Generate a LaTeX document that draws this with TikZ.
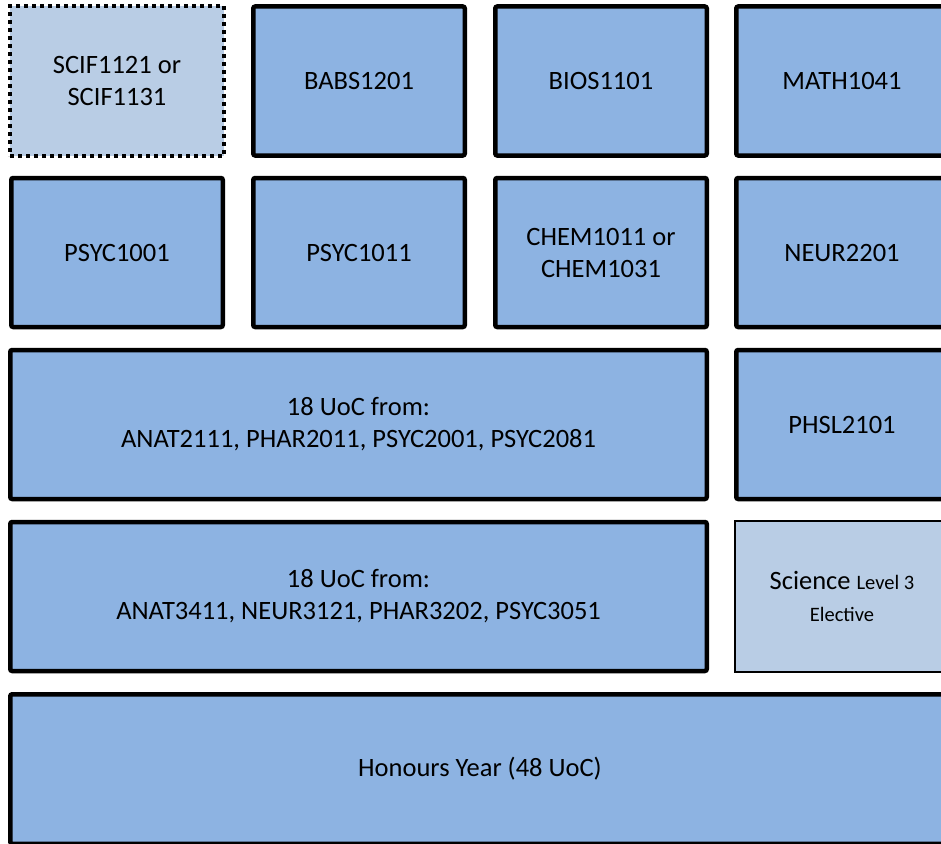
\documentclass[tikz,border=0pt]{standalone}
\usepackage{fontspec}
\setmainfont{Carlito}
\definecolor{midblue}{HTML}{8DB3E2}
\definecolor{lightblue}{HTML}{B9CDE5}
\begin{document}
\begin{tikzpicture}[x=1pt,y=-1pt,
  course/.style={draw=black, line width=4.5pt, fill=midblue, rounded corners=2pt,
    inner sep=0pt, outer sep=0pt, align=center,
    font=\fontsize{26.5}{32}\selectfont},
  optbox/.style={draw=black, line width=4pt, fill=lightblue, dash pattern=on 4pt off 4pt,
    inner sep=0pt, outer sep=0pt, align=center,
    font=\fontsize{26.5}{32}\selectfont},
  elective/.style={draw=black, line width=2pt, fill=lightblue,
    inner sep=0pt, outer sep=0pt, align=center,
    font=\fontsize{26.5}{32}\selectfont},
  colw/.style={minimum width=211.5pt},
  roww/.style={minimum height=149pt}]
\useasboundingbox (0,0) rectangle (941,843);
\begin{scope}
\clip (0,0) rectangle (941,843);
% row 1
\node[optbox, minimum width=214pt, minimum height=150pt] (scif) at (117,81) {SCIF1121 or\\SCIF1131};
\node[course, colw, roww] (babs) at (359,81) {BABS1201};
\node[course, colw, roww] (bios) at (601,81) {BIOS1101};
\node[course, colw, roww] (math) at (842,81) {MATH1041};
% row 2
\node[course, colw, roww] (psyc1001) at (117,252.5) {PSYC1001};
\node[course, colw, roww] (psyc1011) at (359,252.5) {PSYC1011};
\node[course, colw, roww] (chem) at (601,252.5) {CHEM1011 or\\CHEM1031};
\node[course, colw, roww] (neur) at (842,252.5) {NEUR2201};
% row 3
\node[course, minimum width=696.5pt, roww] (lvl2) at (358.5,424.5) {18 UoC from:\\ANAT2111, PHAR2011, PSYC2001, PSYC2081};
\node[course, colw, roww] (phsl) at (842,424.5) {PHSL2101};
% row 4
\node[course, minimum width=696.5pt, roww] (lvl3) at (358.5,596.5) {18 UoC from:\\ANAT3411, NEUR3121, PHAR3202, PSYC3051};
\node[elective, minimum width=214pt, minimum height=151pt] (sci) at (842,596.5)
  {Science {\fontsize{20.5}{27}\selectfont Level 3}\\{\fontsize{20.5}{27}\selectfont Elective}};
% row 5
\node[course, minimum width=939.5pt, minimum height=149.5pt] (hons) at (480,769) {Honours Year (48 UoC)};
\end{scope}
\end{tikzpicture}
\end{document}
